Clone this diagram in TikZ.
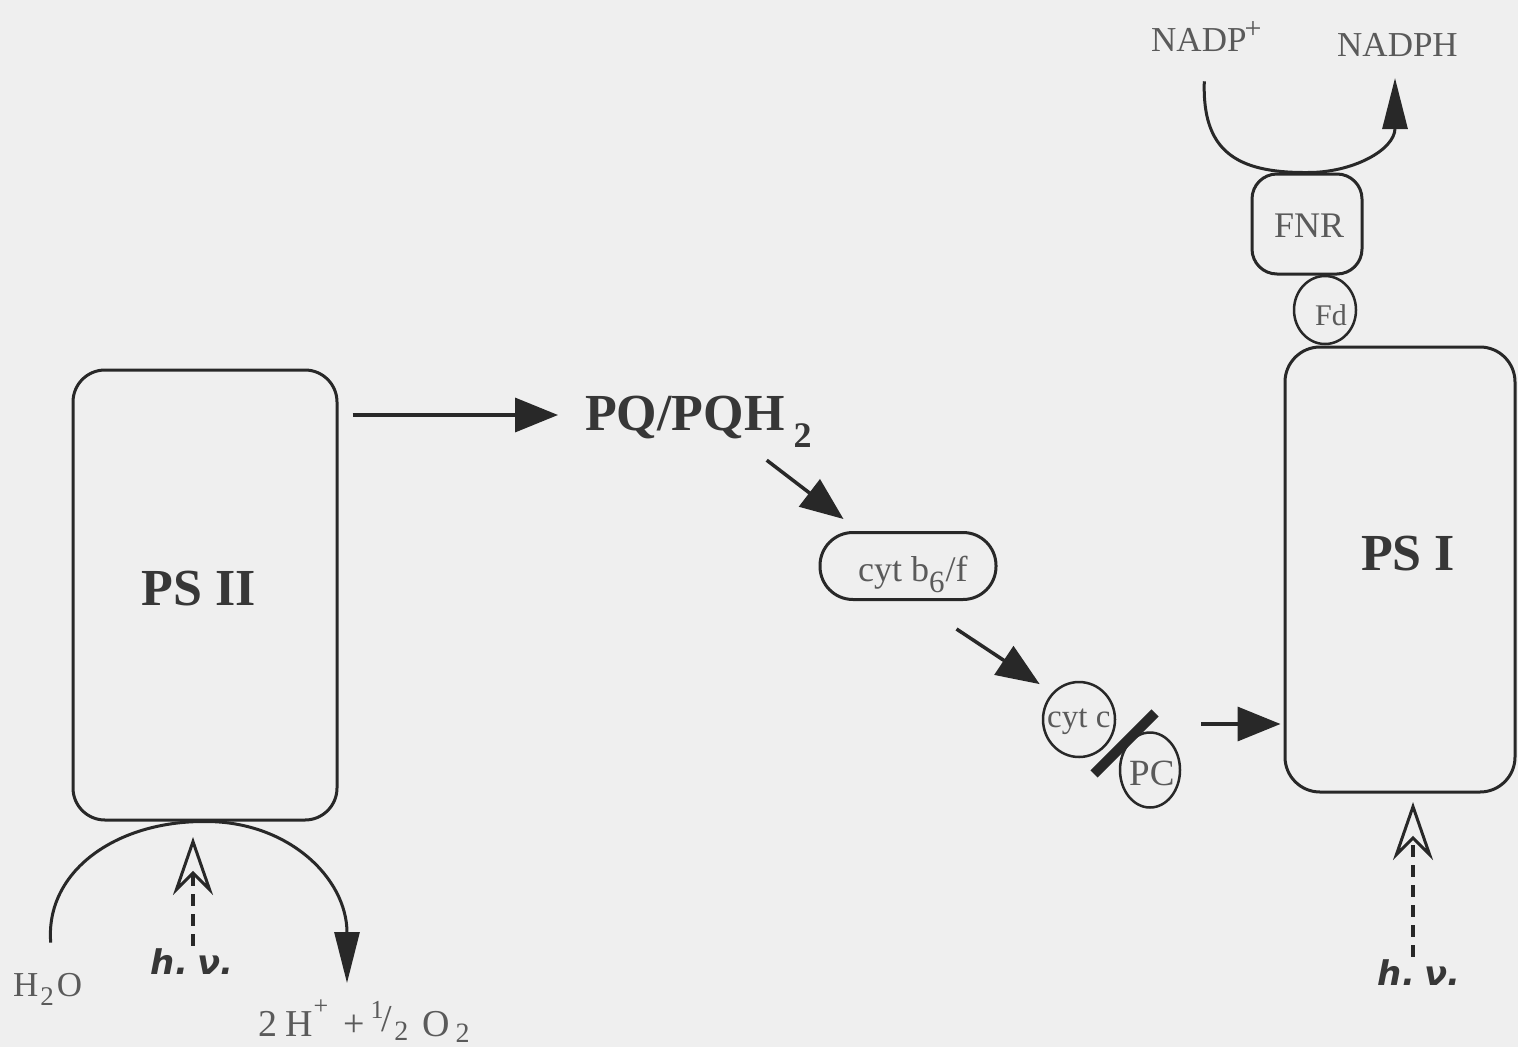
\documentclass[tikz,border=0pt]{standalone}
\usepackage{fontspec}
\setmainfont{Liberation Serif}
\newfontfamily\hvfont{DejaVu Sans}
\usetikzlibrary{arrows.meta,calc,shapes.geometric}
\definecolor{paper}{RGB}{239,239,239}
\definecolor{ink}{RGB}{40,40,40}
\definecolor{boldink}{RGB}{55,55,55}
\definecolor{textgray}{RGB}{90,90,90}
\newcommand{\fsz}[1]{\fontsize{#1}{#1}\selectfont}

\begin{document}
\begin{tikzpicture}[x=1pt,y=-1pt,
  box/.style={draw=ink, line width=3pt, inner sep=0pt},
  lbl/.style={text=textgray, inner sep=0pt},
  big/.style={text=boldink, font=\fsz{52}\bfseries, inner sep=0pt},
  arr/.style={draw=ink, line width=3.5pt, -{Triangle[length=43pt,width=34pt]}},
  flow/.style={draw=ink, line width=3pt, -{Triangle[length=51pt,width=25pt]}},
  light/.style={draw=ink, line width=3.2pt, dash pattern=on 12pt off 8pt,
    -{Stealth[open,length=58pt,width=40pt,inset=20pt,line width=3pt]}},
  hv/.style={text=boldink, font=\hvfont\bfseries\itshape\fsz{34}, inner sep=0pt}
]
\fill[paper] (0,0) rectangle (1518,1047);
\useasboundingbox (0,0) rectangle (1518,1047);

% photosystems
\node[box, minimum width=264pt, minimum height=450pt, rounded corners=32pt] (psii) at (205,595) {};
\node[big, anchor=base] (psiilbl) at (199,605) {PS II};
\node[box, minimum width=230pt, minimum height=445pt, rounded corners=35pt] (psi) at (1400,569.5) {};
\node[big, anchor=base] (psilbl) at (1408,570) {PS I};

% plastoquinone pool
\node[big, anchor=base west] (pq) at (585,430) {PQ/PQH\hspace{9pt}\raisebox{-17pt}{\fsz{36}2}};

% cytochrome b6/f complex
\node[box, minimum width=176pt, minimum height=67pt, rounded corners=33pt] (cytb) at (908,566) {};
\node[lbl, font=\fsz{36}, anchor=base west] (cytblbl) at (858,581) {cyt b\raisebox{-11pt}{\fsz{31}6}\kern1pt/f};

% cytochrome c and plastocyanin
\node[draw=ink, line width=2.5pt, ellipse, minimum width=72pt, minimum height=75pt, inner sep=0pt] (cytc) at (1079,719.5) {};
\node[lbl, font=\fsz{33}, anchor=base west] (cytclbl) at (1047,727) {cyt c};
\node[draw=ink, line width=2.5pt, ellipse, minimum width=60pt, minimum height=75pt, inner sep=0pt] (pc) at (1150,770) {};
\node[lbl, font=\fsz{37}, anchor=base west] (pclbl) at (1129,785) {PC};
\draw[ink, line width=10pt] (1094,774) -- (1155,713);

% ferredoxin and FNR
\node[draw=ink, line width=2.5pt, ellipse, minimum width=62pt, minimum height=68pt, inner sep=0pt] (fd) at (1325,310) {};
\node[lbl, font=\fsz{30}, anchor=base west] (fdlbl) at (1315,325) {Fd};
\node[box, minimum width=110pt, minimum height=100pt, rounded corners=25pt] (fnr) at (1307,224) {};
\node[lbl, font=\fsz{36}, anchor=base west] (fnrlbl) at (1274,237) {FNR};

% NADP+ / NADPH
\node[lbl, font=\fsz{35}, anchor=base west] (nadp) at (1151,51) {NADP\kern-2pt\raisebox{13pt}{\fsz{30}+}};
\node[lbl, font=\fsz{35}, anchor=base west] (nadph) at (1337,56) {NADPH};
\coordinate (nadpout) at (1395,78);
\draw[flow] ($(nadp.south)+(-2,30)$) .. controls (1202,150) and (1235,173) .. (fnr.north)
  .. controls (1352,173) and (1395,150) .. (nadpout);

% water splitting
\node[lbl, font=\fsz{35}, anchor=base west] (water) at (13,996) {H\kern2pt\raisebox{-9pt}{\fsz{27}2}\kern3pt O};
\node[lbl, font=\fsz{38}, anchor=base west] (oxygen) at (258,1036)
  {2\kern8pt H\kern1pt\raisebox{22pt}{\fsz{26}+}\kern15pt+\kern6pt\raisebox{18pt}{\fsz{26}1}\kern-2pt\raisebox{5pt}{/}\kern2pt\raisebox{-4pt}{\fsz{28}2}\kern14pt O\kern6pt\raisebox{-6pt}{\fsz{28}2}};
\coordinate (waterout) at (347,983);
\draw[flow] ($(water.north)+(3,-30)$) .. controls (45,872) and (115,821) .. (psii.south)
  .. controls (288,821) and (347,878) .. (waterout);

% light
\node[hv] (hv1) at (192,962) {h.\kern9pt ν.};
\coordinate (tip1) at (193,837);
\draw[light, shorten <=3pt] (hv1.north -| tip1) -- (tip1);
\node[hv] (hv2) at (1419,973) {h.\kern9pt ν.};
\coordinate (tip2) at (1413,802);
\draw[light, shorten <=3pt] (hv2.north -| tip2) -- (tip2);

% electron flow
\draw[arr] ([xshift=14pt]psii.east |- 0,415) -- ([xshift=-27pt]pq.west |- 0,415);
\draw[arr] ($(pq.south east)+(-45,13)$) -- ($(cytb.north west)+(25,-12)$);
\draw[arr] ($(cytb.south west)+(138,28)$) -- ($(cytc.north west)+(-13,-8)$);
\draw[arr] ([xshift=20pt]pc.east |- 0,724) -- ([xshift=-3pt]psi.west |- 0,724);
\end{tikzpicture}
\end{document}
